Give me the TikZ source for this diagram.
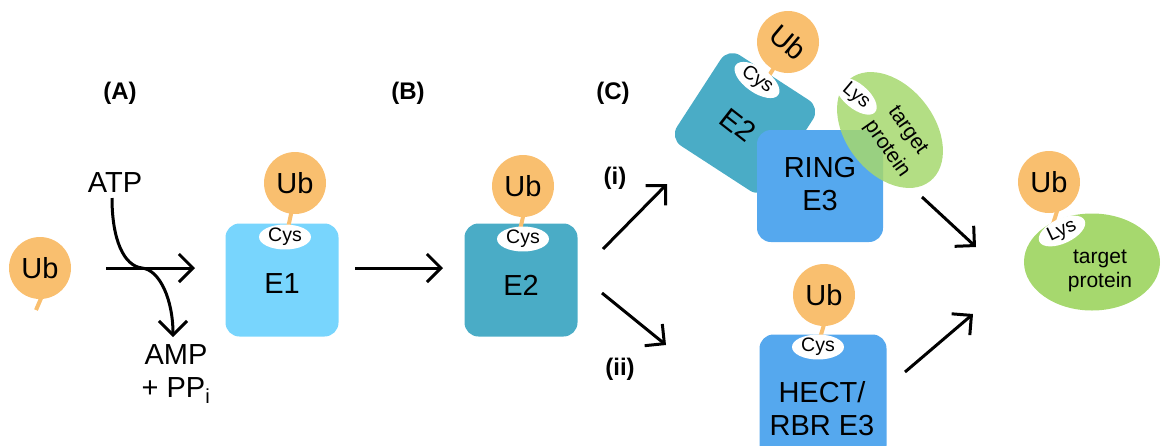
\documentclass[tikz,border=0pt]{standalone}
\usepackage{fontspec}
\setmainfont{Liberation Sans}
\usetikzlibrary{arrows.meta,shapes.geometric}
\definecolor{ubc}{HTML}{F9BF6F}
\definecolor{eone}{HTML}{78D5FD}
\definecolor{etwo}{HTML}{4AACC6}
\definecolor{ethree}{HTML}{55A8EE}
\definecolor{tgt}{HTML}{A6D86E}
\begin{document}
\begin{tikzpicture}[x=1pt,y=-1pt,
 ub/.style={circle,fill=ubc,minimum size=62pt,inner sep=0pt,font=\fontsize{29}{29}\selectfont},
 tail/.style={draw=ubc,line width=4pt},
 enz/.style={rounded corners=14pt,minimum width=113pt,minimum height=113pt,inner sep=0pt},
 site/.style={ellipse,fill=white,minimum width=52pt,minimum height=22pt,inner sep=0pt,font=\fontsize{19.5}{19.5}\selectfont},
 lbl/.style={font=\bfseries\fontsize{24}{24}\selectfont},
 big/.style={font=\fontsize{29}{33}\selectfont,align=center},
 small/.style={font=\fontsize{21}{24}\selectfont,align=center},
 arr/.style={line width=3pt,-{Straight Barb[length=14pt,width=28pt]}},
]
\useasboundingbox (0,0) rectangle (1163,445);

% labels
\node[lbl] (la) at (120,93) {(A)};
\node[lbl] (lb) at (408,93) {(B)};
\node[lbl] (lc) at (613,93) {(C)};
\node[lbl] (li) at (615,178) {(i)};
\node[lbl] (lii) at (620,369) {(ii)};

% (A) free ubiquitin
\draw[tail] (42,296) -- (36,310);
\node[ub] (ub0) at (40,268) {Ub};
\node[big] (atp) at (115,183) {ATP};
\node[big] (amp) at (176,374) {AMP\\+ PP\textsubscript{i}};
\coordinate (h1) at (106,268);
\coordinate (h2) at (195,268);
\coordinate (atpend) at (112,198);
\coordinate (ampend) at (173,337);
\draw[arr] (h1) -- (h2);
\draw[arr] (atpend) .. controls (112,240) and (124,266) .. (142,268)
   .. controls (160,270) and (173,300) .. (ampend);

% E1
\node[enz,fill=eone] (e1) at (282,280) {};
\draw[tail] (293,205) -- (288,228);
\node[ub] (ub1) at (295,183) {Ub};
\node[site] (cys1) at (285,237) {Cys};
\node[big] (e1t) at (282,284) {E1};

\coordinate (b1) at (355,268);
\coordinate (b2) at (443,268);
\draw[arr] (b1) -- (b2);

% E2
\node[enz,fill=etwo] (e2) at (521,280) {};
\draw[tail] (525,208) -- (520,230);
\node[ub] (ub2) at (523,186) {Ub};
\node[site] (cys2) at (523,239) {Cys};
\node[big] (e2t) at (521,285) {E2};

\coordinate (i1) at (603,249);
\coordinate (i2) at (667,184);
\draw[arr] (i1) -- (i2);
\coordinate (ii1) at (602,293);
\coordinate (ii2) at (666,345);
\draw[arr] (ii1) -- (ii2);

% RING complex
\node[enz,fill=etwo,rotate=-33,minimum width=110pt,minimum height=108pt] (e2c) at (745,123) {};
\node[enz,fill=ethree,minimum width=126pt,minimum height=112pt] (ring) at (820,186) {};
\node[ellipse,fill=tgt,fill opacity=0.85,minimum width=130pt,minimum height=88pt,inner sep=0pt,rotate=-52] (tp1) at (890,130) {};
\node[small,rotate=-55] (tp1a) at (907,131) {target};
\node[small,rotate=-55] (tp1b) at (887,149) {protein};
\node[site,rotate=-40,minimum width=50pt] (lys1) at (856,96) {Lys};
\draw[tail] (775,66) -- (767,79);
\node[ub,rotate=-40] (ub3) at (788,42) {Ub};
\node[site,rotate=-35] (cys3) at (757,80) {Cys};
\node[big,rotate=-38] (e2ct) at (738,125) {E2};
\node[big] (ringt) at (820,184) {RING\\E3};

% HECT
\node[enz,fill=ethree,minimum width=127pt,minimum height=125pt] (hect) at (823,397) {};
\draw[tail] (826,318) -- (820,338);
\node[ub] (ub4) at (824,295) {Ub};
\node[site] (cys4) at (818,347) {Cys};
\node[big] (hectt) at (822,409) {HECT/\\RBR E3};

% arrows to product
\coordinate (r1) at (922,197);
\coordinate (r2) at (976,247);
\draw[arr] (r1) -- (r2);
\coordinate (s1) at (905,372);
\coordinate (s2) at (973,314);
\draw[arr] (s1) -- (s2);

% product
\node[ellipse,fill=tgt,minimum width=136pt,minimum height=97pt,inner sep=0pt] (tp2) at (1092,262) {};
\draw[tail] (1058,208) -- (1053,224);
\node[ub] (ub5) at (1049,182) {Ub};
\node[site,rotate=25,minimum width=50pt,minimum height=22pt] (lys2) at (1062,231) {Lys};
\node[small] (tp2t) at (1100,271) {target\\protein};
\end{tikzpicture}
\end{document}
